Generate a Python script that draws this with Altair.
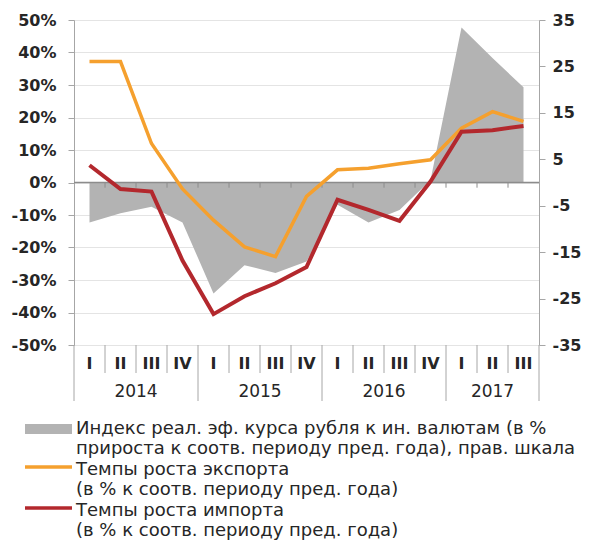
import altair as alt
import pandas as pd

# ---- data ----
quarters = ["I", "II", "III", "IV", "I", "II", "III", "IV", "I", "II", "III", "IV", "I", "II", "III"]
years = ["2014"] * 4 + ["2015"] * 4 + ["2016"] * 4 + ["2017"] * 3
export_growth = [37.2, 37.2, 12.0, -2.0, -11.6, -19.8, -22.8, -4.3, 3.9, 4.4, 5.8, 7.0, 16.7, 21.8, 18.8]
import_growth = [5.3, -2.0, -2.8, -24.0, -40.5, -35.0, -31.0, -26.0, -5.3, -8.4, -11.8, 0.3, 15.6, 16.1, 17.4]
reer_change = [-8.6, -6.6, -5.2, -8.6, -23.9, -17.8, -19.5, -17.0, -4.8, -8.6, -5.9, 0.5, 33.4, 26.8, 20.5]
left_ticks = list(range(-50, 51, 10))
right_ticks = list(range(-35, 36, 10))
legend_labels = [
    "Индекс реал. эф. курса рубля к ин. валютам (в %\nприроста к соотв. периоду пред. года), прав. шкала",
    "Темпы роста экспорта\n(в % к соотв. периоду пред. года)",
    "Темпы роста импорта\n(в % к соотв. периоду пред. года)",
]

W, H = 465, 325
FONT = "DejaVu Sans"
GRAY = "#b3b3b3"
ORANGE = "#f5a02e"
RED = "#b3282d"
AXC = "#a6a6a6"
TXT = "#262626"

n = len(quarters)
df = pd.DataFrame({
    "idx": list(range(n)), "q": quarters, "year": years,
    "exp": export_growth, "imp": import_growth, "reer": reer_change,
})
inner_b = pd.DataFrame({"b": [i + 0.5 for i in range(n - 1) if years[i] == years[i + 1]]})
year_b = pd.DataFrame({"b": [-0.5] + [i + 0.5 for i in range(n - 1) if years[i] != years[i + 1]] + [n - 0.5]})
all_b = pd.DataFrame({"b": [i + 0.5 for i in range(n - 1)]})

xs = alt.Scale(domain=[-0.5, n - 0.5], nice=False, zero=False)
yl = alt.Scale(domain=[-50, 50], nice=False)
yr = alt.Scale(domain=[-35, 35], nice=False)

left_axis = alt.Axis(
    values=left_ticks, labelExpr="datum.value + '%'", title=None,
    grid=True, gridColor="#e4e4e4", domainColor=AXC, tickColor=AXC, tickSize=6,
    labelFont=FONT, labelFontSize=16, labelFontWeight="bold", labelColor=TXT, labelPadding=12,
)
right_axis = alt.Axis(
    orient="right", values=right_ticks, labelExpr="datum.value + ''", title=None, grid=False,
    domainColor=AXC, tickColor=AXC, tickSize=6,
    labelFont=FONT, labelFontSize=16, labelFontWeight="bold", labelColor=TXT, labelPadding=7,
)

area = alt.Chart(df).mark_area(color=GRAY, opacity=1).encode(
    x=alt.X("idx:Q", scale=xs, axis=None),
    y=alt.Y("reer:Q", scale=yr, axis=right_axis),
)

zero_rule = alt.Chart(pd.DataFrame({"v": [0]})).mark_rule(color="#8c8c8c", strokeWidth=1.5).encode(
    y=alt.Y("v:Q", scale=yl, axis=left_axis),
)
zero_ticks = alt.Chart(all_b).mark_rule(color="#8c8c8c", strokeWidth=1).encode(
    x=alt.X("b:Q", scale=xs, axis=None),
    y=alt.Y("z:Q", scale=yl, axis=left_axis),
    y2=alt.Y2("z2:Q"),
).transform_calculate(z="0", z2="-1.6")
exp_line = alt.Chart(df).mark_line(color=ORANGE, strokeWidth=3.5).encode(
    x=alt.X("idx:Q", scale=xs, axis=None),
    y=alt.Y("exp:Q", scale=yl, axis=left_axis),
)
imp_line = alt.Chart(df).mark_line(color=RED, strokeWidth=4).encode(
    x=alt.X("idx:Q", scale=xs, axis=None),
    y=alt.Y("imp:Q", scale=yl, axis=left_axis),
)
left_layer = alt.layer(zero_rule, zero_ticks, exp_line, imp_line)

q_sep = alt.Chart(inner_b).mark_rule(color=AXC, strokeWidth=1).encode(
    x=alt.X("b:Q", scale=xs, axis=None), y=alt.value(H), y2=alt.value(H + 28),
)
y_sep = alt.Chart(year_b).mark_rule(color=AXC, strokeWidth=1).encode(
    x=alt.X("b:Q", scale=xs, axis=None), y=alt.value(H), y2=alt.value(H + 56),
)
q_text = alt.Chart(df).mark_text(font=FONT, fontSize=16, fontWeight="bold", color=TXT, baseline="middle").encode(
    x=alt.X("idx:Q", scale=xs, axis=None), y=alt.value(H + 19), text="q:N",
)
y_text = alt.Chart(df).transform_aggregate(mid="mean(idx)", groupby=["year"]).mark_text(
    font=FONT, fontSize=17, color=TXT, baseline="middle"
).encode(
    x=alt.X("mid:Q", scale=xs, axis=None), y=alt.value(H + 47), text="year:N",
)

one = pd.DataFrame({"a": [0]})
sw_area = alt.Chart(one).mark_rect(color=GRAY).encode(
    x=alt.value(-49), x2=alt.value(-2), y=alt.value(404), y2=alt.value(414),
)
sw_exp = alt.Chart(one).mark_rule(color=ORANGE, strokeWidth=3.5).encode(
    x=alt.value(-49), x2=alt.value(-2), y=alt.value(447),
)
sw_imp = alt.Chart(one).mark_rule(color=RED, strokeWidth=3.5).encode(
    x=alt.value(-49), x2=alt.value(-2), y=alt.value(488),
)
leg_texts = []
for lab, ytop in zip(legend_labels, [400, 441, 482]):
    leg_texts.append(
        alt.Chart(pd.DataFrame({"t": [lab]})).mark_text(
            font=FONT, fontSize=18, color=TXT, align="left", baseline="top",
            lineBreak="\n", lineHeight=20,
        ).encode(x=alt.value(2), y=alt.value(ytop), text="t:N")
    )

chart = alt.layer(
    area, left_layer, q_sep, y_sep, q_text, y_text, sw_area, sw_exp, sw_imp, *leg_texts
).resolve_scale(y="independent").properties(
    width=W, height=H,
    autosize=alt.AutoSizeParams(type="none"),
    padding={"left": 66, "top": 12, "right": 43, "bottom": 195},
).configure_view(stroke=None).configure(background="white")

chart.save("out.html", embed_options={"renderer": "svg", "actions": False})
